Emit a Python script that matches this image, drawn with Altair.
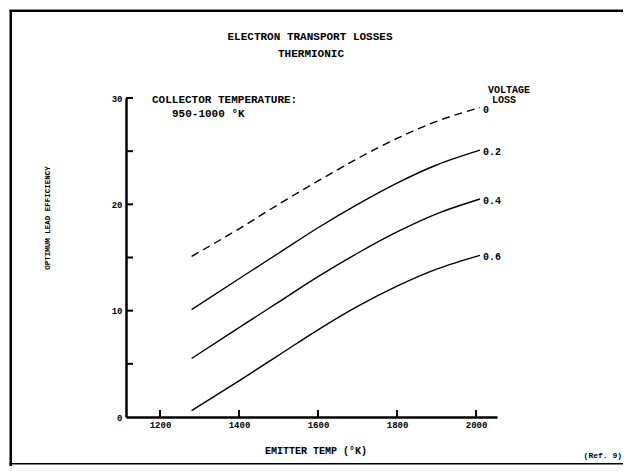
import altair as alt
import pandas as pd

# ---- data ----
emitter_temp = [1280, 1400, 1500, 1600, 1700, 1800, 1900, 2010]
loss_0   = [15.1, 17.7, 20.0, 22.2, 24.3, 26.2, 27.8, 29.1]
loss_0_2 = [10.1, 13.0, 15.4, 17.8, 20.0, 22.0, 23.7, 25.1]
loss_0_4 = [5.5, 8.4, 10.8, 13.2, 15.4, 17.4, 19.1, 20.5]
loss_0_6 = [0.6, 3.4, 5.8, 8.2, 10.4, 12.3, 13.9, 15.2]
series_labels = ["0", "0.2", "0.4", "0.6"]
x_tick_values = [1200, 1400, 1600, 1800, 2000]
y_label_values = [0, 10, 20, 30]
y_tick_values = [5, 10, 15, 20, 25, 30]

rows = []
for lab, vals in zip(series_labels, [loss_0, loss_0_2, loss_0_4, loss_0_6]):
    for t, v in zip(emitter_temp, vals):
        rows.append({"temp": t, "eff": v, "loss": lab})
df = pd.DataFrame(rows)
ends = df.groupby("loss", as_index=False).last()

W, H = 371, 319
FONT = "Liberation Mono"
xs = alt.Scale(domain=[1114, 2053], nice=False, zero=False)
ys = alt.Scale(domain=[0, 30], nice=False)

base = alt.Chart(df)

solid = base.transform_filter(alt.datum.loss != "0").mark_line(
    color="black", strokeWidth=1.4, interpolate="monotone"
).encode(
    x=alt.X("temp:Q", scale=xs, axis=alt.Axis(
        values=x_tick_values, tickSize=0, labelPadding=3, title=None, grid=False,
        domainColor="black", domainWidth=2.5, labelFont=FONT, labelFontSize=9,
        labelFontWeight="bold", labelColor="black", format="d")),
    y=alt.Y("eff:Q", scale=ys, axis=alt.Axis(
        values=y_label_values, tickSize=0, labelPadding=4, title=None, grid=False,
        domainColor="black", domainWidth=2.5, labelFont=FONT, labelFontSize=9,
        labelFontWeight="bold", labelColor="black")),
    detail="loss:N",
)

dashed = base.transform_filter(alt.datum.loss == "0").mark_line(
    color="black", strokeWidth=1.4, strokeDash=[8, 5], interpolate="monotone"
).encode(x=alt.X("temp:Q", scale=xs), y=alt.Y("eff:Q", scale=ys))

end_labels = alt.Chart(ends).mark_text(
    align="left", baseline="middle", dx=3, dy=2, font=FONT, fontSize=10,
    fontWeight="bold", color="black"
).encode(x=alt.X("temp:Q", scale=xs), y=alt.Y("eff:Q", scale=ys), text="loss:N")

ytick_df = pd.DataFrame({"v": y_tick_values})
yticks = alt.Chart(ytick_df).mark_rule(color="black", strokeWidth=2).encode(
    y=alt.Y("v:Q", scale=ys), x=alt.value(0), x2=alt.value(7))

xtick_df = pd.DataFrame({"v": x_tick_values})
xticks = alt.Chart(xtick_df).mark_rule(color="black", strokeWidth=2).encode(
    x=alt.X("v:Q", scale=xs), y=alt.value(H), y2=alt.value(H - 7))


def txt(s, x, y, size=11, align="center", angle=0):
    kw = dict(align=align, baseline="middle", font=FONT, fontSize=size,
              fontWeight="bold", color="black", text=s)
    if angle:
        kw["angle"] = angle
    return alt.Chart(alt.Data(values=[{}])).mark_text(**kw).encode(
        x=alt.value(x), y=alt.value(y))


def bar(x1, x2, y1, y2):
    return alt.Chart(alt.Data(values=[{}])).mark_rect(color="black").encode(
        x=alt.value(x1), x2=alt.value(x2), y=alt.value(y1), y2=alt.value(y2))


annotations = [
    txt("ELECTRON TRANSPORT LOSSES", 184, -61, 11),
    txt("THERMIONIC", 185, -44, 11),
    txt("COLLECTOR TEMPERATURE:", 26, 2, 11, "left"),
    txt("950-1000 °K", 46, 16, 11, "left"),
    txt("VOLTAGE", 383, -8, 10),
    txt("LOSS", 378, 2, 10),
    txt("OPTIMUM LEAD EFFICIENCY", -78, 120, 7.5, "center", 270),
    txt("EMITTER TEMP (°K)", 190, 353, 10),
    txt("(Ref. 9)", 496, 358, 8, "right"),
    bar(-116.5, -114, -88, 368),
    bar(-116.5, 505, -88.5, -86),
    bar(-116.5, 505, 365, 366.5),
]

chart = alt.layer(solid, dashed, end_labels, yticks, xticks, *annotations).properties(
    width=W, height=H,
    autosize=alt.AutoSizeParams(type="none"),
    padding={"left": 118, "top": 90, "right": 126, "bottom": 49},
    background="white",
).configure_view(stroke=None)

chart.save("out.html", embed_options={"renderer": "svg", "actions": False})
